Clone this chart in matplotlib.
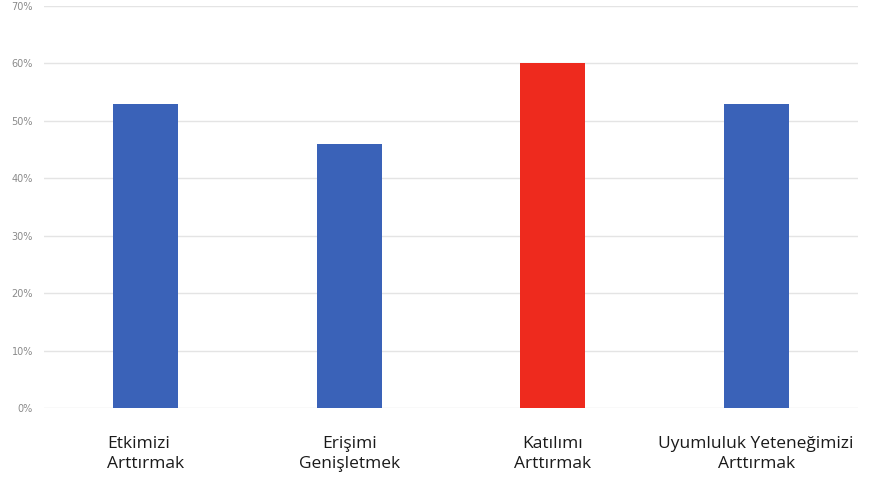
import numpy as np
import matplotlib
matplotlib.use('Agg')
import matplotlib.pyplot as plt

# data
categories = ["Etkimizi\nArttırmak", "Erişimi\nGenişletmek", "Katılımı\nArttırmak",
              "Uyumluluk Yeteneğimizi\nArttırmak"]
values = [0.53, 0.46, 0.60, 0.53]
colors = ["#3a62b8", "#3a62b8", "#ee2a1e", "#3a62b8"]
yticks = [0.0, 0.1, 0.2, 0.3, 0.4, 0.5, 0.6, 0.7]

fig = plt.figure(figsize=(8.77, 4.78), dpi=100)
ax = fig.add_axes([44/877, 1-408/478, (858-44)/877, (408-6)/478])

x = np.arange(len(categories))
ax.bar(x, values, width=0.32, color=colors, zorder=2)

ax.set_xlim(-0.5, 3.5)
ax.set_ylim(0, 0.7)
ax.set_yticks(yticks)
ax.set_yticklabels([f"{int(round(t*100))}%" for t in yticks], fontsize=7, color="#8a8a8a")
ax.yaxis.grid(True, color="#e4e4e4", linewidth=1, zorder=0)
ax.tick_params(axis="y", length=0, pad=8)
ax.tick_params(axis="x", length=0, pad=20)
ax.set_xticks(x)
ax.set_xticklabels(categories, fontsize=12.5, color="#1a1a1a", family="Open Sans",
                   linespacing=1.35)
ax.get_xticklabels()[0].set_multialignment("left")
for s in ax.spines.values():
    s.set_visible(False)

fig.savefig("out.png", dpi=100)
